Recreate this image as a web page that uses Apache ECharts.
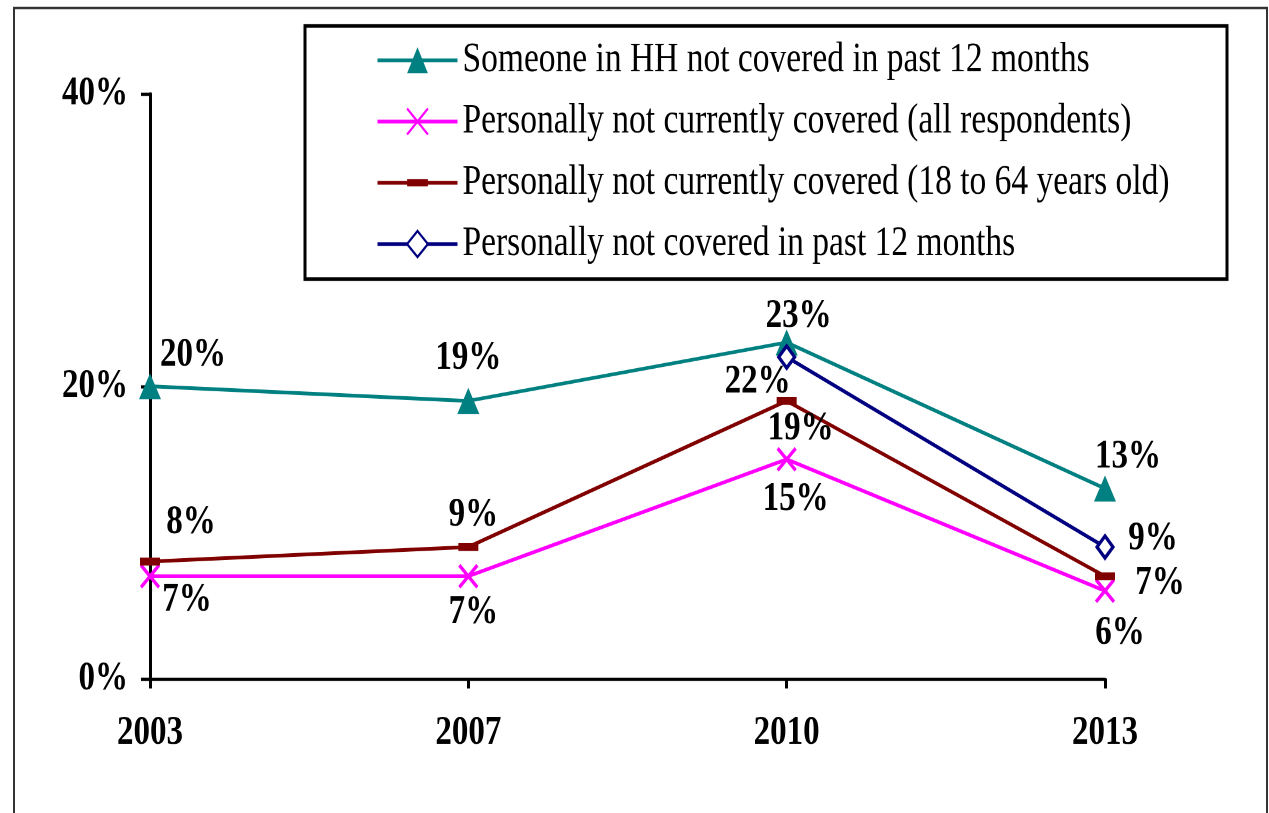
<!DOCTYPE html>
<html>
<head>
<meta charset="utf-8">
<script src="https://cdn.jsdelivr.net/npm/echarts@6/dist/echarts.min.js"></script>
<style>
  html, body { margin: 0; padding: 0; background: #fff; }
  body { height: 813px; }
  /* the source picture is stretched vertically, so draw short and stretch */
  #chart { width: 1269px; height: 650.4px; transform: scaleY(1.25); transform-origin: 0 0; }
</style>
</head>
<body>
<div id="chart"></div>
<script>
// data
var years = ['2003', '2007', '2010', '2013'];
var hhNotCovered12m = [20, 19, 23, 13];
var notCoveredAll = [7, 7, 15, 6];
var notCovered18to64 = [8, 9, 19, 7];
var notCovered12m = [null, null, 22, 9];
var yTicks = [0, 20, 40];

var seriesNames = [
  'Someone in HH not covered in past 12 months',
  'Personally not currently covered (all respondents)',
  'Personally not currently covered (18 to 64 years old)',
  'Personally not covered in past 12 months'
];

var SY = 1.25; // vertical stretch
function vy(px) { return px / SY; }

// where each value label sits relative to its point (picture pixels)
var labelOffsets = [
  [[43, -31], [0, -43], [12, -26], [23, -32]],
  [[37, 24], [5, 36], [9, 40], [15, 42]],
  [[41, -39], [5, -32], [14, 28], [55, 7]],
  [null, null, [-29, 25], [48, -8]]
];

var serif = '"Liberation Serif", "Times New Roman", serif';

// flat dash marker inside a square box, so the legend keeps it flat too
var dashSymbol = 'path://M0,0L0,0M25,25L25,25M0,9H25V16H0Z';

function withLabels(values, offs) {
  return values.map(function (v, i) {
    if (v === null) return '-';
    return {
      value: v,
      label: { offset: [offs[i][0], vy(offs[i][1])] }
    };
  });
}

var chart = echarts.init(document.getElementById('chart'), null, { devicePixelRatio: 2 });

var baseLabel = {
  show: true,
  position: 'inside',
  align: 'center',
  verticalAlign: 'middle',
  formatter: '{c}%',
  color: '#000',
  fontFamily: serif,
  fontWeight: 'bold',
  fontSize: 33
};

var option = {
  backgroundColor: '#fff',
  animation: false,
  graphic: [
    {
      type: 'rect',
      shape: { x: 14, y: vy(8), width: 1253, height: 700 },
      style: { fill: 'none', stroke: '#333', lineWidth: 2 },
      silent: true
    },
    {
      type: 'rect',
      shape: { x: 305, y: vy(26), width: 922, height: vy(253) },
      style: { fill: '#fff', stroke: '#000', lineWidth: 3 },
      silent: true,
      z: 0
    }
  ],
  grid: { left: 150, right: 164, top: vy(94), bottom: vy(134) },
  legend: {
    orient: 'vertical',
    left: 371,
    top: vy(59) - 21,
    itemWidth: 80,
    itemHeight: 26,
    itemGap: 15,
    z: 5,
    lineStyle: { width: 3 },
    textStyle: {
      fontFamily: serif,
      fontSize: 33.5,
      lineHeight: 30,
      color: '#000'
    },
    data: seriesNames
  },
  xAxis: {
    type: 'category',
    data: years,
    boundaryGap: false,
    axisLine: { lineStyle: { color: '#000', width: 2.6 } },
    axisTick: { alignWithLabel: true, length: vy(10), lineStyle: { color: '#000', width: 3 } },
    axisLabel: {
      margin: 27,
      color: '#000',
      fontFamily: serif,
      fontWeight: 'bold',
      fontSize: 33
    },
    splitLine: { show: false }
  },
  yAxis: {
    type: 'value',
    min: yTicks[0],
    max: yTicks[yTicks.length - 1],
    interval: yTicks[1] - yTicks[0],
    axisLine: { show: true, lineStyle: { color: '#000', width: 3 } },
    axisTick: { show: true, length: 9, lineStyle: { color: '#000', width: 2.6 } },
    axisLabel: {
      margin: 22,
      formatter: '{value}%',
      color: '#000',
      fontFamily: serif,
      fontWeight: 'bold',
      fontSize: 33
    },
    splitLine: { show: false }
  },
  series: [
    {
      name: seriesNames[0],
      type: 'line',
      data: withLabels(hhNotCovered12m, labelOffsets[0]),
      symbol: 'triangle',
      symbolSize: [22, vy(26)],
      lineStyle: { color: '#008080', width: 3 },
      itemStyle: { color: '#008080' },
      label: baseLabel,
      z: 4
    },
    {
      name: seriesNames[1],
      type: 'line',
      data: withLabels(notCoveredAll, labelOffsets[1]),
      symbol: 'path://M0,0L10,10M10,0L0,10',
      symbolSize: [18, vy(22)],
      lineStyle: { color: '#ff00ff', width: 3 },
      itemStyle: { color: '#ff00ff', borderColor: '#ff00ff', borderWidth: 3 },
      label: baseLabel,
      z: 2
    },
    {
      name: seriesNames[2],
      type: 'line',
      data: withLabels(notCovered18to64, labelOffsets[2]),
      symbol: dashSymbol,
      symbolSize: [20, vy(28)],
      lineStyle: { color: '#800000', width: 3 },
      itemStyle: { color: '#800000', borderWidth: 0 },
      label: baseLabel,
      z: 3
    },
    {
      name: seriesNames[3],
      type: 'line',
      data: withLabels(notCovered12m, labelOffsets[3]),
      symbol: 'diamond',
      symbolSize: [16, vy(22)],
      lineStyle: { color: '#000080', width: 3 },
      itemStyle: { color: '#fff', borderColor: '#000080', borderWidth: 3 },
      label: baseLabel,
      z: 5
    }
  ]
};

chart.setOption(option);
</script>
</body>
</html>
